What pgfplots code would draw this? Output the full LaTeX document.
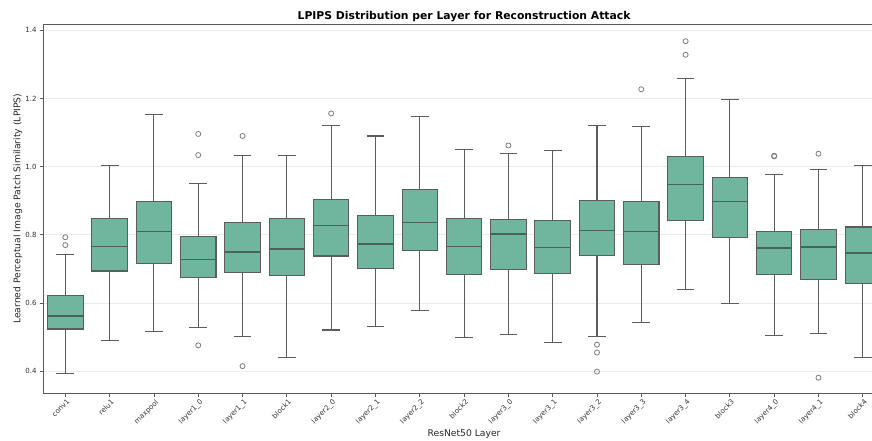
\documentclass[border=0pt]{standalone}
\usepackage{pgfplots}
\pgfplotsset{compat=1.18}
\usepgfplotslibrary{statistics}
\usetikzlibrary{calc}
\usepackage{fontspec}
\setmainfont{DejaVu Sans}
\definecolor{boxfill}{RGB}{112,182,158}
\definecolor{edgec}{RGB}{92,92,92}
\definecolor{medc}{RGB}{72,100,90}
\definecolor{gridc}{RGB}{235,235,235}
\definecolor{spinec}{RGB}{90,90,90}
\pgfplotsset{
  bxs/.style={draw=edgec, fill=boxfill, line width=0.8pt, solid,
    mark=o, mark size=1.9pt, mark options={draw=edgec!80, fill=none, line width=0.6pt},
    boxplot/draw direction=y,
    boxplot/box extend=0.8, boxplot/whisker extend=0.4,
    boxplot/every median/.style={draw=medc, line width=1pt}}
}
\newcommand{\bx}[7]{\addplot[bxs, boxplot prepared={draw position=#1, lower whisker=#2, lower quartile=#3, median=#4, upper quartile=#5, upper whisker=#6}] coordinates {#7};}
\begin{document}
\begin{tikzpicture}
\begin{axis}[
  scale only axis,
  width=631.3pt, height=276.75pt,
  xmin=-0.5, xmax=18.5,
  ymin=0.3355, ymax=1.4176,
  xtick={0,...,18},
  xticklabels={conv1,relu1,maxpool,layer1\_0,layer1\_1,block1,layer2\_0,layer2\_1,layer2\_2,block2,layer3\_0,layer3\_1,layer3\_2,layer3\_3,layer3\_4,block3,layer4\_0,layer4\_1,block4},
  ytick={0.4,0.6,...,1.4},
  yticklabel style={/pgf/number format/fixed, /pgf/number format/fixed zerofill, /pgf/number format/precision=1, inner sep=2.2pt},
  /pgf/number format/assume math mode=true,
  tick label style={font=\fontsize{5.3}{5.8}\selectfont, text=black!80},
  xticklabel style={rotate=45, anchor=north east, inner sep=1.5pt, xshift=1pt},
  tick align=outside,
  major tick length=2.6pt,
  tick style={draw=spinec, line width=0.6pt},
  xtick pos=bottom, ytick pos=left,
  ymajorgrids,
  grid style={draw=gridc, line width=0.6pt},
  axis line style={draw=spinec, line width=0.8pt},
  title={LPIPS Distribution per Layer for Reconstruction Attack},
  title style={font=\bfseries\fontsize{8.1}{9.6}\selectfont, yshift=-8pt},
  xlabel={ResNet50 Layer},
  ylabel={Learned Perceptual Image Patch Similarity (LPIPS)},
  label style={font=\fontsize{6.9}{8}\selectfont, text=black!85},
  xlabel style={yshift=2.3pt},
  ylabel style={yshift=-3.5pt},
  clip=false,
]
\coordinate (bl) at (rel axis cs:0,0);
\coordinate (tr) at (rel axis cs:1,1);
\bx{0}{0.394}{0.524}{0.562}{0.622}{0.743}{(0,0.793) (0,0.770)}
\bx{1}{0.489}{0.694}{0.766}{0.848}{1.003}{}
\bx{2}{0.517}{0.717}{0.810}{0.897}{1.154}{}
\bx{3}{0.527}{0.674}{0.727}{0.795}{0.951}{(3,1.096) (3,1.034) (3,0.476)}
\bx{4}{0.501}{0.690}{0.750}{0.835}{1.034}{(4,1.090) (4,0.415)}
\bx{5}{0.440}{0.682}{0.759}{0.849}{1.034}{}
\bx{6}{0.521}{0.738}{0.827}{0.905}{1.121}{(6,1.156)}
\bx{7}{0.532}{0.700}{0.773}{0.857}{1.090}{}
\bx{8}{0.577}{0.754}{0.836}{0.934}{1.147}{}
\bx{9}{0.500}{0.685}{0.765}{0.848}{1.051}{}
\bx{10}{0.509}{0.699}{0.803}{0.844}{1.039}{(10,1.062)}
\bx{11}{0.485}{0.687}{0.762}{0.841}{1.048}{}
\bx{12}{0.503}{0.740}{0.812}{0.901}{1.120}{(12,0.478) (12,0.455) (12,0.399)}
\bx{13}{0.543}{0.714}{0.809}{0.898}{1.117}{(13,1.227)}
\bx{14}{0.641}{0.841}{0.948}{1.031}{1.259}{(14,1.368) (14,1.328)}
\bx{15}{0.599}{0.793}{0.897}{0.969}{1.197}{}
\bx{16}{0.506}{0.684}{0.761}{0.809}{0.978}{(16,1.032) (16,1.030)}
\bx{17}{0.511}{0.670}{0.764}{0.815}{0.992}{(17,1.038) (17,0.381)}
\bx{18}{0.440}{0.658}{0.747}{0.823}{1.003}{}
\end{axis}
\pgfresetboundingbox
\path[use as bounding box] ($(bl)+(-32.4pt,-35.8pt)$) rectangle ($(tr)+(-9.7pt,18.2pt)$);
\end{tikzpicture}
\end{document}
